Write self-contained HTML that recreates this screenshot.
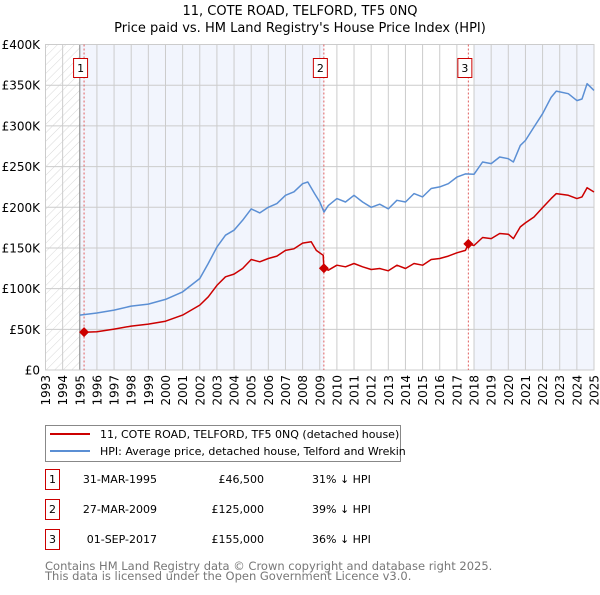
<!DOCTYPE html>
<html><head><meta charset="utf-8"><style>
body{margin:0;background:#fff;font-family:"Liberation Sans","DejaVu Sans",sans-serif;}
svg text{font-family:"DejaVu Sans","Liberation Sans",sans-serif;}
</style></head><body>
<svg id="c" width="600" height="590" viewBox="0 0 600 590" xmlns="http://www.w3.org/2000/svg">
<defs><pattern id="hatch" width="6" height="6" patternUnits="userSpaceOnUse" patternTransform="rotate(45)"><line x1="0" y1="0" x2="0" y2="6" stroke="#d8d8d8" stroke-width="1"/></pattern></defs>
<text x="300" y="15" text-anchor="middle" font-size="13" fill="#000">11, COTE ROAD, TELFORD, TF5 0NQ</text>
<text x="300" y="32" text-anchor="middle" font-size="13" fill="#000">Price paid vs. HM Land Registry's House Price Index (HPI)</text>
<g id="plot"></g>
<g>
<rect x="45.5" y="425.5" width="355" height="36" fill="#fff" stroke="#888"/>
<line x1="50" y1="434" x2="90" y2="434" stroke="#cc0000" stroke-width="2"/>
<text x="100" y="438" font-size="11">11, COTE ROAD, TELFORD, TF5 0NQ (detached house)</text>
<line x1="50" y1="451" x2="90" y2="451" stroke="#5b8fd4" stroke-width="2"/>
<text x="100" y="455" font-size="11">HPI: Average price, detached house, Telford and Wrekin</text>
</g>
<g id="table" font-size="11"></g>
<text x="45" y="570" font-size="11.5" fill="#777">Contains HM Land Registry data © Crown copyright and database right 2025.</text>
<text x="45" y="580" font-size="11.5" fill="#777">This data is licensed under the Open Government Licence v3.0.</text>
</svg>
<script>
const yearTicks=[1993,1994,1995,1996,1997,1998,1999,2000,2001,2002,2003,2004,2005,2006,2007,2008,2009,2010,2011,2012,2013,2014,2015,2016,2017,2018,2019,2020,2021,2022,2023,2024,2025];
const valueTicks=[0,50000,100000,150000,200000,250000,300000,350000,400000];
const valueTickLabels=["£0","£50K","£100K","£150K","£200K","£250K","£300K","£350K","£400K"];
const hpiYears=[1995,1996,1997,1998,1999,2000,2001,2002,2002.5,2003,2003.5,2004,2004.5,2005,2005.5,2006,2006.5,2007,2007.5,2008,2008.3,2008.7,2009,2009.25,2009.5,2010,2010.5,2011,2011.5,2012,2012.5,2013,2013.5,2014,2014.5,2015,2015.5,2016,2016.5,2017,2017.5,2018,2018.5,2019,2019.5,2020,2020.3,2020.7,2021,2021.5,2022,2022.5,2022.8,2023.5,2024,2024.3,2024.6,2025];
const hpiValues=[67500,70000,73600,78500,81000,86700,96000,112500,131000,151000,165600,171800,184000,198000,193000,200000,204500,214700,219000,229000,231000,216800,206500,194000,202000,210600,206500,214700,206500,200000,203700,198000,208600,206500,216800,212700,223000,225000,229000,237000,241000,240500,255600,253600,261800,259700,255600,276000,282000,298600,315000,335000,342700,339500,331000,333000,351800,343600];
const propYears=[1995.25,1996,1997,1998,1999,2000,2001,2002,2002.5,2003,2003.5,2004,2004.5,2005,2005.5,2006,2006.5,2007,2007.5,2008,2008.5,2008.8,2009.2,2009.24,2009.5,2010,2010.5,2011,2011.5,2012,2012.5,2013,2013.5,2014,2014.5,2015,2015.5,2016,2016.5,2017,2017.5,2017.67,2018,2018.5,2019,2019.5,2020,2020.3,2020.7,2021,2021.5,2022,2022.5,2022.8,2023.5,2024,2024.3,2024.6,2025];
const propValues=[46500,47000,50300,54000,56400,60000,67500,79800,90000,104000,114500,117800,124700,135800,133000,137000,140000,147000,149000,156000,157500,147000,141000,125000,122700,128800,126800,130900,126800,123500,124700,121900,128800,124700,130900,128800,135800,137000,140000,144000,147000,155000,153000,162800,161500,167700,166900,161500,175800,180800,188000,199600,210600,216800,214700,210600,212700,224000,218800];
const saleLabels=["1","2","3"];
const saleYears=[1995.25,2009.24,2017.67];
const salePrices=[46500,125000,155000];
const saleDates=["31-MAR-1995","27-MAR-2009","01-SEP-2017"];
const salePriceText=["£46,500","£125,000","£155,000"];
const saleDiffText=["31% ↓ HPI","39% ↓ HPI","36% ↓ HPI"];

const L=45.5,R=594,T=44.5,B=370,X0=1993,X1=2025,YMAX=400000;
const NS="http://www.w3.org/2000/svg";
const x=v=>L+(v-X0)/(X1-X0)*(R-L);
const y=v=>B-v/YMAX*(B-T);
const plot=document.getElementById('plot');
function mk(tag,attrs,parent){const e=document.createElementNS(NS,tag);for(const k in attrs)e.setAttribute(k,attrs[k]);(parent||plot).appendChild(e);return e;}

mk('rect',{x:L,y:T,width:R-L,height:B-T,fill:'#fff'});
const sh1=mk('rect',{x:x(1995),y:T,width:x(saleYears[1])-x(1995),height:B-T,fill:'#f2f5fd'});


const sh2=mk('rect',{x:x(2018),y:T,width:R-x(2018),height:B-T,fill:'#f2f5fd'});


const ht=mk('rect',{x:L,y:T,width:x(1995)-L,height:B-T,fill:'url(#hatch)'});



yearTicks.forEach(yr=>{
  mk('line',{x1:x(yr),y1:T,x2:x(yr),y2:B,stroke:'#ccc','stroke-width':1});
  const t=mk('text',{x:0,y:0,transform:`translate(${x(yr)+4.5},${B+5}) rotate(-90)`,'text-anchor':'end','font-size':12,fill:'#000'});
  t.textContent=yr;
  
  
});
valueTicks.forEach((v,i)=>{
  mk('line',{x1:L,y1:y(v),x2:R,y2:y(v),stroke:'#ccc','stroke-width':1});
  const t=mk('text',{x:40,y:y(v)+4.5,'text-anchor':'end','font-size':12,fill:'#000'});
  t.textContent=valueTickLabels[i];
  
  
});
mk('line',{x1:x(1995),y1:T,x2:x(1995),y2:B,stroke:'#888','stroke-width':1});
mk('rect',{x:L,y:T,width:R-L,height:B-T,fill:'none',stroke:'#ccc'});

saleYears.forEach((yr,i)=>{
  const ln=mk('line',{x1:x(yr),y1:T,x2:x(yr),y2:B,stroke:'#e06060','stroke-width':1,'stroke-dasharray':'2,2'});
  
  
  const bx=mk('rect',{x:x(yr)-10.5,y:58.5,width:14,height:19,fill:'#fff',stroke:'#cc0000'});
  
  
  const t=mk('text',{x:x(yr)-3.5,y:72,'text-anchor':'middle','font-size':11});
  t.textContent=saleLabels[i];
});

function path(xs,vs,color,name){
  const d=xs.map((yr,i)=>(i?'L':'M')+x(yr).toFixed(1)+','+y(vs[i]).toFixed(1)).join(' ');
  const p=mk('path',{d:d,fill:'none',stroke:color,'stroke-width':1.5,'stroke-linejoin':'round'});
  
  
}
path(hpiYears,hpiValues,'#5b8fd4','hpi-line');
path(propYears,propValues,'#cc0000','property-price-line');
saleYears.forEach((yr,i)=>{
  const px=x(yr),py=y(salePrices[i]);
  const d=mk('path',{d:`M${px},${py-5} L${px+5},${py} L${px},${py+5} L${px-5},${py} Z`,fill:'#cc0000'});
  
  
});

const tb=document.getElementById('table');
saleLabels.forEach((lab,i)=>{
  const cy=483+i*30;
  const b=mk('rect',{x:45.5,y:cy-13.5,width:14,height:20,fill:'#fff',stroke:'#cc0000'},tb);
  
  
  const t0=mk('text',{x:52.5,y:cy,'text-anchor':'middle'},tb);t0.textContent=lab;
  const t1=mk('text',{x:157,y:cy,'text-anchor':'end'},tb);t1.textContent=saleDates[i];
  
  
  const t2=mk('text',{x:264,y:cy,'text-anchor':'end'},tb);t2.textContent=salePriceText[i];
  
  
  const t3=mk('text',{x:312,y:cy},tb);t3.textContent=saleDiffText[i];
  
  
});
</script>
</body></html>
